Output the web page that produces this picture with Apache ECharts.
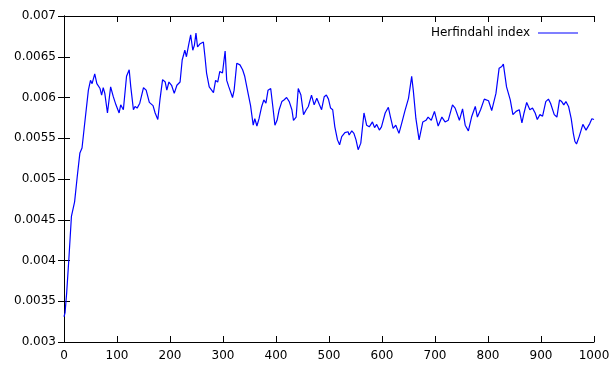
<!DOCTYPE html>
<html>
<head>
<meta charset="utf-8">
<script src="https://cdn.jsdelivr.net/npm/echarts@6/dist/echarts.min.js"></script>
<style>html,body{margin:0;padding:0;background:#fff}#c{width:612px;height:367px}</style>
</head>
<body>
<div id="c"></div>
<script>
const seriesName = "Herfindahl index";
const xTicks = [0,100,200,300,400,500,600,700,800,900,1000];
const yTicks = [0.003,0.0035,0.004,0.0045,0.005,0.0055,0.006,0.0065,0.007];
const steps = [0,2,5,9,14,20,25,30,34,38,41,46,50,53,58,62,68,71,74,77,82,88,93,98,104,107,112,118,123,126,131,134,138,143,150,155,161,168,172,177,181,186,191,194,198,203,208,213,219,223,228,231,235,239,243,246,249,252,257,260,263,266,269,274,277,282,286,290,294,299,304,307,311,318,321,326,332,337,341,348,352,357,360,364,368,373,377,381,385,390,394,398,402,406,411,415,420,425,430,433,438,442,447,452,457,461,467,472,477,482,486,491,495,499,503,507,511,516,520,524,530,536,538,543,547,551,555,560,566,571,576,582,586,590,595,599,606,612,616,621,626,632,637,643,650,656,659,664,670,677,683,687,693,699,706,713,719,725,733,738,746,752,757,763,769,776,780,786,793,801,807,815,821,826,829,835,842,847,853,859,864,868,873,879,884,889,893,898,903,909,914,918,925,930,935,939,943,947,952,957,961,964,967,972,979,985,992,996,1000];
const hIndex = [0.00331,0.00336,0.0036,0.0040,0.00454,0.00472,0.00503,0.00532,0.00538,0.00562,0.00564,0.00609,0.00621,0.00617,0.00629,0.00617,0.00611,0.00603,0.00612,0.00605,0.00581,0.00613,0.00601,0.00591,0.00581,0.00591,0.00585,0.00626,0.00634,0.00613,0.00585,0.00589,0.00587,0.00593,0.00612,0.00609,0.00594,0.0059,0.00581,0.00573,0.00597,0.00622,0.00619,0.00609,0.00619,0.00615,0.00605,0.00615,0.00619,0.00646,0.00658,0.0065,0.00664,0.00677,0.00658,0.00664,0.00679,0.00662,0.00666,0.00664,0.00668,0.0065,0.0063,0.00613,0.00611,0.00606,0.00621,0.00619,0.00632,0.0063,0.00657,0.00621,0.00613,0.006,0.00609,0.00642,0.0064,0.00634,0.00626,0.00603,0.0059,0.00566,0.00574,0.00565,0.00574,0.00589,0.00597,0.00593,0.00609,0.00611,0.00589,0.00566,0.00572,0.00585,0.00595,0.00597,0.006,0.00595,0.00585,0.00572,0.00576,0.00611,0.00603,0.00579,0.00585,0.00589,0.00603,0.00591,0.00599,0.00591,0.00585,0.00601,0.00603,0.00598,0.00587,0.00585,0.00564,0.00548,0.00542,0.00552,0.00557,0.00558,0.00554,0.00559,0.00556,0.00548,0.00536,0.00544,0.00581,0.00566,0.00564,0.0057,0.00563,0.00567,0.0056,0.00564,0.00581,0.00588,0.00576,0.00562,0.00566,0.00556,0.00568,0.00583,0.00599,0.00626,0.00609,0.00574,0.00548,0.0057,0.00572,0.00576,0.00572,0.00583,0.00565,0.00576,0.0057,0.00572,0.00591,0.00587,0.00572,0.00586,0.00566,0.00559,0.00576,0.00589,0.00576,0.00585,0.00598,0.00596,0.00584,0.00605,0.00636,0.00638,0.00641,0.00613,0.00597,0.00579,0.00583,0.00585,0.00569,0.00581,0.00594,0.00585,0.00587,0.00581,0.00573,0.00579,0.00577,0.00595,0.00598,0.00593,0.00579,0.00576,0.00597,0.00595,0.00591,0.00595,0.00589,0.00574,0.00556,0.00546,0.00543,0.00552,0.00567,0.0056,0.00568,0.00574,0.00573];

const data = steps.map((s, i) => [s, hIndex[i]]);
const font = "DejaVu Sans";
const fmtY = v => parseFloat(v.toFixed(4)).toString();
const axisLine = {show: true, lineStyle: {color: '#000', width: 1}};
const tick = {show: true, inside: true, length: 6, lineStyle: {color: '#000', width: 1}};

const chart = echarts.init(document.getElementById('c'), null, {renderer: 'canvas'});
chart.setOption({
  animation: false,
  backgroundColor: '#fff',
  grid: {left: 64, right: 18, top: 16, bottom: 25, containLabel: false, outerBoundsMode: 'none'},
  legend: {show: false},
  graphic: {elements: [
    {type: 'text', right: 82, top: 27, z: 100,
     style: {text: seriesName, font: '12px "DejaVu Sans"', fill: '#000', textAlign: 'right'}},
    {type: 'text', left: 538, top: 27, z: 100,
     style: {text: '{l|}', rich: {l: {width: 40, height: 1, backgroundColor: '#0000ff'}}, fill: '#0000ff'}}
  ]},
  xAxis: [
    {type: 'value', min: xTicks[0], max: xTicks[xTicks.length-1], interval: 100, position: 'bottom',
     axisLine: axisLine, axisTick: tick, splitLine: {show: false},
     axisLabel: {fontFamily: font, fontSize: 12, color: '#000', margin: 8, formatter: v => String(v)}},
    {type: 'value', min: xTicks[0], max: xTicks[xTicks.length-1], interval: 100, position: 'top',
     axisLine: axisLine, axisTick: tick, splitLine: {show: false}, axisLabel: {show: false}}
  ],
  yAxis: [
    {type: 'value', min: yTicks[0], max: yTicks[yTicks.length-1], interval: 0.0005, position: 'left',
     axisLine: axisLine, axisTick: tick, splitLine: {show: false},
     axisLabel: {fontFamily: font, fontSize: 12, color: '#000', margin: 8, formatter: fmtY}},
    {type: 'value', min: yTicks[0], max: yTicks[yTicks.length-1], interval: 0.0005, position: 'right',
     axisLine: axisLine, axisTick: tick, splitLine: {show: false}, axisLabel: {show: false}}
  ],
  series: [{
    name: seriesName, type: 'line', xAxisIndex: 0, yAxisIndex: 0,
    data: data, showSymbol: false, symbol: 'none',
    lineStyle: {color: '#0000ff', width: 1.2}, itemStyle: {color: '#0000ff'}
  }]
});
</script>
</body>
</html>
